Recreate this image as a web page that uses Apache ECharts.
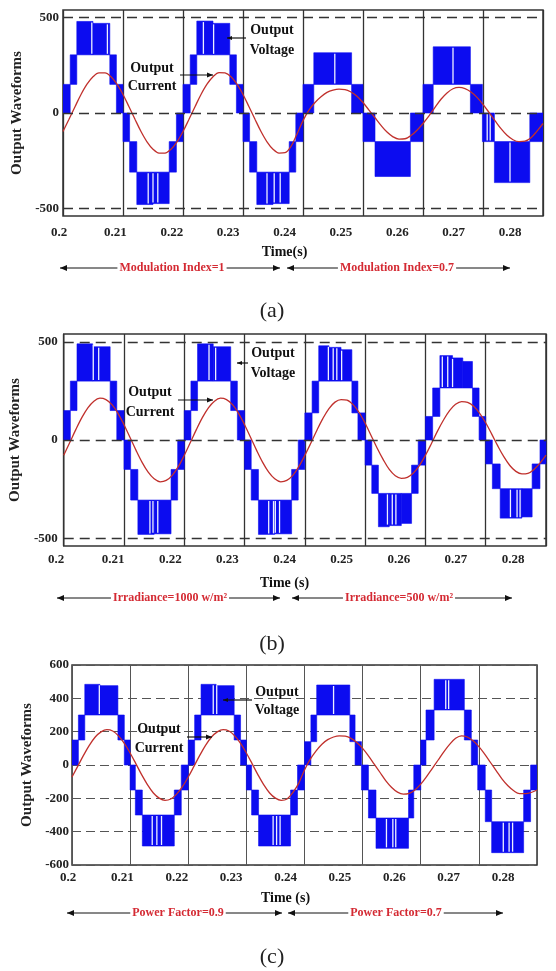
<!DOCTYPE html>
<html><head><meta charset="utf-8">
<script src="https://cdn.jsdelivr.net/npm/echarts@6/dist/echarts.min.js"></script>
<style>html,body{margin:0;padding:0;background:#fff}#c{width:556px;height:971px}</style>
</head><body><div id="c"></div>
<script>
// ---------------- DATA ----------------
const xTickLabels = [0.2, 0.21, 0.22, 0.23, 0.24, 0.25, 0.26, 0.27, 0.28];
const timeS = [0.200,0.201,0.202,0.203,0.204,0.205,0.206,0.207,0.208,0.209,
  0.210,0.211,0.212,0.213,0.214,0.215,0.216,0.217,0.218,0.219,
  0.220,0.221,0.222,0.223,0.224,0.225,0.226,0.227,0.228,0.229,
  0.230,0.231,0.232,0.233,0.234,0.235,0.236,0.237,0.238,0.239,
  0.240,0.241,0.242,0.243,0.244,0.245,0.246,0.247,0.248,0.249,
  0.250,0.251,0.252,0.253,0.254,0.255,0.256,0.257,0.258,0.259,
  0.260,0.261,0.262,0.263,0.264,0.265,0.266,0.267,0.268,0.269,
  0.270,0.271,0.272,0.273,0.274,0.275,0.276,0.277,0.278,0.279,0.280];

// Output current (A)
const curA = [-97,-33,33,97,151,190,210,210,190,151, 97,33,-33,-97,-151,-190,-210,-210,-190,-151,
  -97,-33,33,97,151,190,212,210,190,151, 97,33,-33,-97,-151,-190,-210,-208,-175,-110,
  -40,15,55,85,108,120,125,123,110,88, 55,15,-25,-65,-100,-125,-137,-135,-118,-90,
  -55,-15,30,72,105,127,134,128,110,82, 45,3,-40,-82,-117,-140,-150,-148,-130,-95,-55];
const curB = [-78,-13,53,114,164,198,213,206,180,136, 78,13,-53,-114,-164,-198,-213,-206,-180,-136,
  -78,-13,53,114,164,198,213,206,180,136, 78,13,-53,-114,-164,-198,-213,-206,-180,-136,
  -78,-15,50,110,160,193,206,203,180,140, 85,22,-42,-100,-150,-182,-195,-190,-168,-130,
  -78,-18,45,102,150,182,196,192,172,136, 88,30,-30,-85,-130,-160,-173,-170,-150,-118,-77];
const curC = [-72,-7,59,119,168,199,212,204,175,130, 72,7,-59,-119,-168,-199,-212,-204,-175,-130,
  -72,-7,59,119,168,199,212,204,175,130, 72,7,-59,-119,-168,-199,-212,-204,-165,-110,
  -30,35,85,125,152,168,175,173,160,135, 100,55,5,-45,-95,-135,-163,-175,-170,-150,
  -115,-70,-20,30,80,125,160,175,168,145, 110,65,15,-35,-85,-125,-155,-172,-172,-165,-150];

// Output voltage PWM bands: [tStart, tEnd, low level, high level]
const voltA = [
  [0.2000,0.2012,0,150],[0.2012,0.2023,150,305],[0.2023,0.2050,305,480],[0.2050,0.2078,305,470],
  [0.2078,0.2089,150,305],[0.2089,0.2100,0,150],[0.2100,0.2111,-150,0],[0.2111,0.2123,-310,-150],
  [0.2123,0.2150,-480,-310],[0.2150,0.2177,-475,-310],[0.2177,0.2189,-310,-150],[0.2189,0.2200,-150,0],
  [0.2200,0.2212,0,150],[0.2212,0.2223,150,305],[0.2223,0.2250,305,482],[0.2250,0.2278,305,470],
  [0.2278,0.2289,150,305],[0.2289,0.2300,0,150],[0.2300,0.2311,-150,0],[0.2311,0.2323,-310,-150],
  [0.2323,0.2350,-480,-310],[0.2350,0.2377,-475,-310],[0.2377,0.2388,-310,-150],[0.2388,0.2400,-150,0],
  [0.2400,0.2418,0,150],[0.2418,0.2481,150,316],[0.2481,0.2500,0,150],
  [0.2500,0.2520,-150,0],[0.2520,0.2579,-333,-150],[0.2579,0.2600,-150,0],
  [0.2600,0.2617,0,150],[0.2617,0.2679,150,347],[0.2679,0.2699,0,150],
  [0.2699,0.2719,-150,0],[0.2719,0.2778,-365,-150],[0.2778,0.2800,-150,0]
];
const gapA = [[0.2048,305,480],[0.2074,305,470],[0.2142,-480,-310],[0.2150,-475,-310],[0.2158,-475,-310],
  [0.2234,305,482],[0.2251,305,470],[0.2340,-480,-310],[0.2352,-475,-310],[0.2362,-475,-310],
  [0.2453,150,316],[0.2650,150,347],[0.2707,-150,0],[0.2712,-150,0],[0.2745,-365,-150]];

const voltB = [
  [0.2000,0.2011,0,150],[0.2011,0.2022,150,300],[0.2022,0.2048,300,490],[0.2048,0.2077,300,475],
  [0.2077,0.2088,150,300],[0.2088,0.2100,0,150],[0.2100,0.2111,-150,0],[0.2111,0.2123,-306,-150],
  [0.2123,0.2150,-481,-306],[0.2150,0.2178,-478,-306],[0.2178,0.2189,-306,-150],[0.2189,0.2200,-150,0],
  [0.2200,0.2211,0,150],[0.2211,0.2222,150,300],[0.2222,0.2248,300,490],[0.2248,0.2277,300,475],
  [0.2277,0.2288,150,300],[0.2288,0.2300,0,150],[0.2300,0.2311,-150,0],[0.2311,0.2323,-306,-150],
  [0.2323,0.2350,-481,-306],[0.2350,0.2378,-478,-306],[0.2378,0.2389,-306,-150],[0.2389,0.2400,-150,0],
  [0.2400,0.2412,0,138],[0.2412,0.2423,138,300],[0.2423,0.2440,300,480],[0.2440,0.2460,300,472],
  [0.2460,0.2478,300,460],[0.2478,0.2488,138,300],[0.2488,0.2500,0,138],
  [0.2500,0.2511,-128,0],[0.2511,0.2522,-272,-128],[0.2522,0.2540,-442,-272],[0.2540,0.2560,-436,-272],
  [0.2560,0.2577,-425,-272],[0.2577,0.2588,-272,-128],[0.2588,0.2600,-128,0],
  [0.2600,0.2612,0,120],[0.2612,0.2624,120,265],[0.2624,0.2645,265,430],[0.2645,0.2662,265,418],
  [0.2662,0.2678,265,400],[0.2678,0.2689,120,265],[0.2689,0.2700,0,120],
  [0.2700,0.2711,-122,0],[0.2711,0.2724,-248,-122],[0.2724,0.2760,-398,-248],[0.2760,0.2777,-392,-248],
  [0.2777,0.2790,-248,-122],[0.2790,0.2800,-122,0]
];
const gapB = [[0.2049,300,490],[0.2058,300,475],[0.2143,-481,-306],[0.2148,-478,-306],[0.2156,-478,-306],
  [0.2241,300,490],[0.2252,300,475],[0.2340,-481,-306],[0.2348,-481,-306],[0.2351,-478,-306],[0.2358,-478,-306],
  [0.2439,300,480],[0.2447,300,472],[0.2453,300,472],[0.2461,300,460],
  [0.2537,-436,-272],[0.2545,-436,-272],[0.2551,-436,-272],
  [0.2628,265,430],[0.2637,265,430],[0.2645,265,418],
  [0.2741,-398,-248],[0.2752,-398,-248],[0.2757,-398,-248]];

const voltC = [
  [0.2000,0.2011,0,150],[0.2011,0.2022,150,300],[0.2022,0.2048,300,484],[0.2048,0.2079,300,476],
  [0.2079,0.2090,150,300],[0.2090,0.2100,0,150],[0.2100,0.2109,-150,0],[0.2109,0.2121,-300,-150],
  [0.2121,0.2176,-486,-300],[0.2176,0.2188,-300,-150],[0.2188,0.2200,-150,0],
  [0.2200,0.2211,0,150],[0.2211,0.2222,150,300],[0.2222,0.2248,300,484],[0.2248,0.2279,300,476],
  [0.2279,0.2290,150,300],[0.2290,0.2300,0,150],[0.2300,0.2309,-150,0],[0.2309,0.2321,-300,-150],
  [0.2321,0.2376,-486,-300],[0.2376,0.2388,-300,-150],[0.2388,0.2400,-150,0],
  [0.2400,0.2411,0,140],[0.2411,0.2421,140,300],[0.2421,0.2478,300,480],[0.2478,0.2487,140,300],
  [0.2487,0.2498,0,140],[0.2498,0.2510,-150,0],[0.2510,0.2523,-318,-150],[0.2523,0.2579,-500,-318],
  [0.2579,0.2588,-318,-150],[0.2588,0.2600,-150,0],
  [0.2600,0.2609,0,150],[0.2609,0.2623,150,330],[0.2623,0.2675,330,514],[0.2675,0.2687,150,330],
  [0.2687,0.2698,0,150],[0.2698,0.2711,-150,0],[0.2711,0.2722,-340,-150],[0.2722,0.2777,-526,-340],
  [0.2777,0.2789,-340,-150],[0.2789,0.2800,-150,0]
];
const gapC = [[0.2047,300,484],[0.2138,-486,-300],[0.2146,-486,-300],[0.2154,-486,-300],
  [0.2243,300,484],[0.2249,300,484],[0.2346,-486,-300],[0.2352,-486,-300],[0.2358,-486,-300],
  [0.2450,300,480],[0.2541,-500,-318],[0.2552,-500,-318],[0.2557,-500,-318],
  [0.2643,330,514],[0.2648,330,514],[0.2742,-526,-340],[0.2752,-526,-340],[0.2758,-526,-340]];

const yTicksAB = [500, 0, -500];
const yTicksC = [600, 400, 200, 0, -200, -400, -600];
const rowLabels = [['Modulation Index=1','Modulation Index=0.7'],
                   ['Irradiance=1000 w/m\u00B2','Irradiance=500 w/m\u00B2'],
                   ['Power Factor=0.9','Power Factor=0.7']];
const captions = ['(a)','(b)','(c)'];
const timeTitles = ['Time(s)','Time (s)','Time (s)'];

// ---------------- CHART ----------------
const SERIF = '"Liberation Serif","Times New Roman",serif';
const BLUE = '#0c0cf0';
const RED = '#c0302c';
const chart = echarts.init(document.getElementById('c'), null, {renderer:'canvas'});

const layouts = [
  {plot:{left:63, top:10, width:480, height:206}, lab:{left:59, width:451}, labMargin:9, nameGap:28,
   yMin:-540, yMax:540, yInt:20, ylMargin:4, row:268, rowX:[60,280,287,510], rowText:[172,397], cap:311,
   vTxt:[272,30,50], vArrow:[227,246,38], cTxt:[152,68,86], cArrow:[180,213,75], yName:20},
  {plot:{left:60, top:334, width:486, height:212}, lab:{left:56, width:457}, labMargin:6, nameGap:29,
   yMin:-540, yMax:540, yInt:20, ylMargin:6, row:598, rowX:[57,280,292,512], rowText:[170,399], cap:644,
   vTxt:[273,353,373], vArrow:[237,248,363], cTxt:[150,392,412], cArrow:[178,213,400], yName:17},
  {plot:{left:72, top:665, width:465, height:200}, lab:{left:68, width:435}, labMargin:5, nameGap:25,
   yMin:-600, yMax:600, yInt:200, ylMargin:3, row:913, rowX:[67,282,288,503], rowText:[178,396], cap:957,
   vTxt:[277,692,710], vArrow:[223,252,700], cTxt:[159,729,748], cArrow:[187,212,737], yName:28}
];
const curs = [curA, curB, curC];
const volts = [voltA, voltB, voltC];
const gaps = [gapA, gapB, gapC];

const grid = [], xAxis = [], yAxis = [], series = [], graphic = [];

function renderBlock(params, api) {
  const p0 = api.coord([api.value(0), api.value(3)]);
  const p1 = api.coord([api.value(1), api.value(2)]);
  return {type:'rect', shape:{x:p0[0], y:p0[1], width:p1[0]-p0[0], height:p1[1]-p0[1]},
          style:{fill:BLUE, stroke:BLUE, lineWidth:0.6}};
}
function renderGap(params, api) {
  const p0 = api.coord([api.value(0), api.value(1)]);
  const p1 = api.coord([api.value(0), api.value(2)]);
  return {type:'line', shape:{x1:p0[0], y1:p0[1]-1, x2:p1[0], y2:p1[1]+1},
          style:{stroke:'#eef0ff', lineWidth:1.3}};
}
function txt(x, y, text, font, fill, bg) {
  return {type:'text', x:x, y:y, z:50,
    style:{text:text, font:font, fill:fill, align:'center', verticalAlign:'middle',
           textAlign:'center', textVerticalAlign:'middle', backgroundColor:bg || 'transparent', padding:[0,2]}};
}
function hline(x1, x2, y, w) {
  return {type:'line', z:40, shape:{x1:x1, y1:y, x2:x2, y2:y}, style:{stroke:'#111', lineWidth:w||1}};
}
function head(x, y, dir, len, hw) {
  len = len || 7; hw = hw || 3;
  return {type:'polygon', z:41, shape:{points:[[x,y],[x-dir*len,y-hw],[x-dir*len,y+hw]]}, style:{fill:'#111'}};
}

layouts.forEach((L, i) => {
  const gi = 2*i;
  grid.push(Object.assign({show:true, borderColor:'#333', borderWidth:1.5, backgroundColor:'#fff'}, L.plot));
  grid.push({left:L.lab.left, width:L.lab.width, top:L.plot.top + L.plot.height, height:1, show:false});
  const isC = i === 2;
  const vLineStyle = isC ? {color:'#555', width:1, type:'solid'} : {color:'#333', width:1.3, type:'solid'};
  xAxis.push({type:'value', gridIndex:gi, min:0.2, max:0.28, interval:0.01,
    axisLine:{show:false}, axisTick:{show:false}, axisLabel:{show:false},
    splitLine:{show:true, lineStyle:vLineStyle}});
  xAxis.push({type:'value', gridIndex:gi+1, min:xTickLabels[0], max:xTickLabels[xTickLabels.length-1], interval:0.01,
    axisLine:{show:false}, axisTick:{show:false}, splitLine:{show:false},
    axisLabel:{show:true, margin:L.labMargin, color:'#222', fontFamily:SERIF, fontWeight:'bold', fontSize:13,
      formatter: v => String(+v.toFixed(2))},
    name:timeTitles[i], nameLocation:'middle', nameGap:L.nameGap,
    nameTextStyle:{fontFamily:SERIF, fontWeight:'bold', fontSize:14, color:'#111'}});
  const ticks = isC ? yTicksC : yTicksAB;
  yAxis.push({type:'value', gridIndex:gi, min:L.yMin, max:L.yMax, interval:L.yInt,
    axisLine:{show:false}, axisTick:{show:false},
    axisLabel:{show:true, margin:L.ylMargin, color:'#222', fontFamily:SERIF, fontWeight:'bold', fontSize:13,
      formatter: v => ticks.indexOf(Math.round(v)) >= 0 ? String(Math.round(v)) : ''},
    splitLine:{show:isC, lineStyle:{color:'#555', width:1, type:[9,5]}},
    name:'Output Waveforms', nameLocation:'middle', nameGap: L.plot.left - L.yName - 8,
    nameTextStyle:{fontFamily:SERIF, fontWeight:'bold', fontSize:15, color:'#222'}});
  yAxis.push({type:'value', gridIndex:gi+1, show:false});

  if (!isC) {
    series.push({type:'line', xAxisIndex:gi, yAxisIndex:gi, data:[], z:1, silent:true,
      markLine:{silent:true, symbol:'none', label:{show:false},
        lineStyle:{color:'#333', width:1.3, type:[10,6]},
        data: yTicksAB.map(v => ({yAxis:v}))}});
  }
  series.push({type:'custom', xAxisIndex:gi, yAxisIndex:gi, z:2, clip:true, silent:true,
    renderItem:renderBlock, encode:{x:[0,1], y:[2,3]}, data:volts[i]});
  series.push({type:'custom', xAxisIndex:gi, yAxisIndex:gi, z:3, clip:true, silent:true,
    renderItem:renderGap, encode:{x:0, y:[1,2]}, data:gaps[i]});
  series.push({type:'line', xAxisIndex:gi, yAxisIndex:gi, z:4, showSymbol:false, smooth:0.35, silent:true,
    lineStyle:{color:RED, width:1.3}, data: timeS.map((t, k) => [t, curs[i][k]])});

  // annotations
  const bold = 'bold 14px ' + SERIF;
  graphic.push(txt(L.vTxt[0], L.vTxt[1], 'Output', bold, '#111'));
  graphic.push(txt(L.vTxt[0], L.vTxt[2], 'Voltage', bold, '#111'));
  graphic.push(hline(L.vArrow[0], L.vArrow[1], L.vArrow[2], 1.2));
  graphic.push(head(L.vArrow[0], L.vArrow[2], -1, 5, 2));
  graphic.push(txt(L.cTxt[0], L.cTxt[1], 'Output', bold, '#111'));
  graphic.push(txt(L.cTxt[0], L.cTxt[2], 'Current', bold, '#111'));
  graphic.push(hline(L.cArrow[0], L.cArrow[1], L.cArrow[2], 1.2));
  graphic.push(head(L.cArrow[1], L.cArrow[2], 1, 6, 2.5));
  // bottom condition row
  const rx = L.rowX, ry = L.row;
  graphic.push(hline(rx[0], rx[1], ry));
  graphic.push(head(rx[0], ry, -1));
  graphic.push(head(rx[1], ry, 1));
  graphic.push(hline(rx[2], rx[3], ry));
  graphic.push(head(rx[2], ry, -1));
  graphic.push(head(rx[3], ry, 1));
  graphic.push(txt(L.rowText[0], ry, rowLabels[i][0], 'bold 12px ' + SERIF, '#d42a33', '#fff'));
  graphic.push(txt(L.rowText[1], ry, rowLabels[i][1], 'bold 12px ' + SERIF, '#d42a33', '#fff'));
  graphic.push(txt(272, L.cap, captions[i], '22px ' + SERIF, '#222'));
});

chart.setOption({
  animation:false,
  backgroundColor:'#fff',
  grid:grid, xAxis:xAxis, yAxis:yAxis, series:series, graphic:graphic
});
</script></body></html>
